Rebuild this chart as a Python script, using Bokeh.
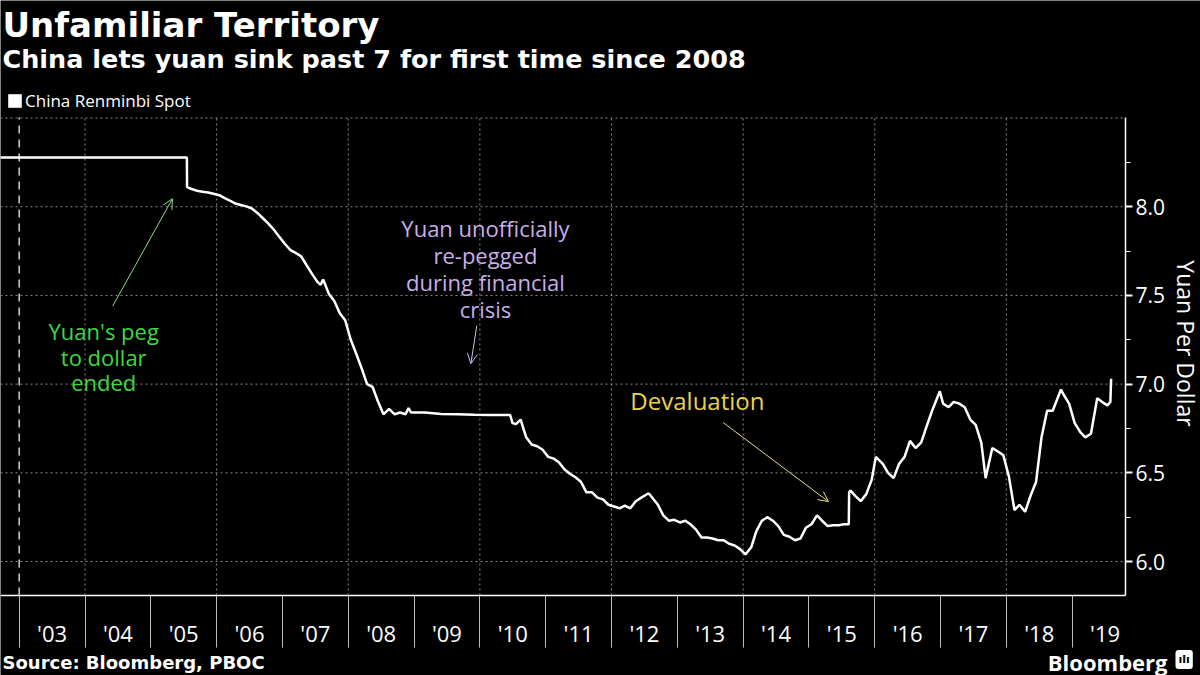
import math
import pandas as pd
from bokeh.plotting import figure
from bokeh.models import (Range1d, FixedTicker, CustomJSTickFormatter, PrintfTickFormatter,
                          Label, Arrow, OpenHead, Legend, LegendItem)
from bokeh.embed import file_html
from bokeh.resources import INLINE

# ---------------- data ----------------
DATES = [
    "2002-09-01", "2005-07-20", "2005-07-21", "2005-08-15", "2005-09-15", "2005-10-15",
    "2005-11-15", "2005-12-15", "2006-01-15", "2006-02-15", "2006-03-15", "2006-04-15",
    "2006-05-15", "2006-06-15", "2006-07-15", "2006-08-15", "2006-09-15", "2006-10-15",
    "2006-11-15", "2006-12-15", "2007-01-15", "2007-02-15", "2007-03-15", "2007-04-15",
    "2007-05-15", "2007-06-15", "2007-07-15", "2007-08-01", "2007-08-15", "2007-09-15",
    "2007-10-15", "2007-11-15", "2007-12-15", "2008-01-15", "2008-02-15", "2008-03-15",
    "2008-04-15", "2008-05-15", "2008-06-15", "2008-07-15", "2008-08-15", "2008-09-15",
    "2008-10-15", "2008-11-15", "2008-12-01", "2008-12-15", "2009-03-01", "2009-06-01",
    "2009-09-01", "2009-12-01", "2010-03-01", "2010-06-18", "2010-07-01", "2010-07-20",
    "2010-08-15", "2010-09-15", "2010-10-15", "2010-11-15", "2010-12-15", "2011-01-15",
    "2011-02-15", "2011-03-15", "2011-04-15", "2011-05-15", "2011-06-15", "2011-07-15",
    "2011-08-15", "2011-09-15", "2011-10-15", "2011-11-15", "2011-12-15", "2012-01-15",
    "2012-02-15", "2012-03-15", "2012-04-15", "2012-05-15", "2012-06-15", "2012-07-25",
    "2012-08-15", "2012-09-15", "2012-10-15", "2012-11-15", "2012-12-15", "2013-01-15",
    "2013-02-15", "2013-03-15", "2013-04-15", "2013-05-15", "2013-06-15", "2013-07-15",
    "2013-08-15", "2013-09-15", "2013-10-15", "2013-11-15", "2013-12-15", "2014-01-14",
    "2014-02-15", "2014-03-15", "2014-04-15", "2014-05-15", "2014-06-15", "2014-07-15",
    "2014-08-15", "2014-09-15", "2014-10-15", "2014-11-15", "2014-12-15", "2015-01-15",
    "2015-02-15", "2015-03-15", "2015-04-15", "2015-05-15", "2015-06-15", "2015-07-15",
    "2015-08-10", "2015-08-12", "2015-08-20", "2015-09-15", "2015-10-15", "2015-11-15",
    "2015-12-15", "2016-01-07", "2016-02-15", "2016-03-15", "2016-04-15", "2016-05-15",
    "2016-06-15", "2016-07-15", "2016-08-15", "2016-09-15", "2016-10-15", "2016-11-15",
    "2016-12-28", "2017-01-15", "2017-02-15", "2017-03-15", "2017-04-15", "2017-05-15",
    "2017-06-15", "2017-07-15", "2017-08-15", "2017-09-08", "2017-10-15", "2017-11-15",
    "2017-12-15", "2018-01-15", "2018-02-15", "2018-03-15", "2018-04-15", "2018-05-15",
    "2018-06-15", "2018-07-15", "2018-08-15", "2018-09-15", "2018-10-31", "2018-11-15",
    "2018-12-15", "2019-01-15", "2019-02-15", "2019-03-15", "2019-04-15", "2019-05-20",
    "2019-06-15", "2019-07-15", "2019-08-01", "2019-08-05",
]
RATES = [
    8.277, 8.277, 8.110, 8.100, 8.090, 8.085,
    8.080, 8.073, 8.065, 8.048, 8.035, 8.018,
    8.010, 8.002, 7.990, 7.965, 7.935, 7.905,
    7.870, 7.830, 7.790, 7.755, 7.740, 7.720,
    7.670, 7.620, 7.575, 7.560, 7.590, 7.510,
    7.470, 7.400, 7.360, 7.250, 7.170, 7.090,
    7.000, 6.985, 6.900, 6.830, 6.860, 6.830,
    6.840, 6.830, 6.865, 6.840, 6.840, 6.832,
    6.830, 6.827, 6.826, 6.826, 6.780, 6.775,
    6.800, 6.700, 6.660, 6.650, 6.630, 6.590,
    6.580, 6.560, 6.520, 6.495, 6.475, 6.450,
    6.390, 6.390, 6.360, 6.350, 6.320, 6.310,
    6.300, 6.315, 6.300, 6.340, 6.360, 6.385,
    6.360, 6.320, 6.260, 6.230, 6.235, 6.220,
    6.230, 6.210, 6.180, 6.135, 6.135, 6.130,
    6.120, 6.120, 6.100, 6.090, 6.070, 6.040,
    6.080, 6.170, 6.230, 6.250, 6.230, 6.200,
    6.150, 6.140, 6.120, 6.130, 6.190, 6.210,
    6.260, 6.230, 6.200, 6.205, 6.205, 6.210,
    6.210, 6.390, 6.400, 6.370, 6.340, 6.380,
    6.460, 6.590, 6.550, 6.500, 6.470, 6.550,
    6.590, 6.680, 6.640, 6.670, 6.760, 6.850,
    6.960, 6.890, 6.870, 6.900, 6.890, 6.870,
    6.800, 6.770, 6.670, 6.470, 6.640, 6.620,
    6.600, 6.480, 6.290, 6.320, 6.280, 6.370,
    6.450, 6.700, 6.850, 6.850, 6.970, 6.940,
    6.890, 6.780, 6.730, 6.700, 6.720, 6.920,
    6.900, 6.880, 6.900, 7.030,
]

YEARS = list(range(2003, 2020))
YEAR_LABELS = ["'03", "'04", "'05", "'06", "'07", "'08", "'09", "'10", "'11",
               "'12", "'13", "'14", "'15", "'16", "'17", "'18", "'19"]
GRID_YEARS = [2004, 2006, 2008, 2010, 2012, 2014, 2016, 2018]
MARK_YEAR = [2003]
Y_TICKS = [6.0, 6.5, 7.0, 7.5, 8.0]
Y_MINOR = [6.25, 6.75, 7.25, 7.75, 8.25]
Y_GRID = [6.0, 6.5, 7.0, 7.5, 8.0, 8.5]

# plotted area (data units) and the whole canvas extent (data units)
PLOT_X = (2002.716, 2019.812)
PLOT_Y = (5.8085, 8.503)
CANVAS_X = (2002.716, 2020.950)
CANVAS_Y = (5.3575, 9.1625)

TITLE = "Unfamiliar Territory"
SUBTITLE = "China lets yuan sink past 7 for first time since 2008"
SERIES = "China Renminbi Spot"
Y_LABEL = "Yuan Per Dollar"
SOURCE = "Source: Bloomberg, PBOC"
BRAND = "Bloomberg"

# annotations: (date, value) anchors
ANN_PEG_TEXT = ["Yuan's peg", "to dollar", "ended"]
ANN_PEG_POS = ("2004-04-14", [7.30, 7.155, 7.01])
ANN_PEG_ARROW = (("2004-06-03", 7.44), ("2005-05-01", 8.045))
ANN_REPEG_TEXT = ["Yuan unofficially", "re-pegged", "during financial", "crisis"]
ANN_REPEG_POS = ("2010-02-01", [7.88, 7.73, 7.578, 7.425])
ANN_REPEG_ARROW = (("2009-12-15", 7.33), ("2009-11-12", 7.115))
ANN_DEV_TEXT = "Devaluation"
ANN_DEV_POS = ("2012-04-15", 6.91)
ANN_DEV_ARROW = (("2013-09-13", 6.783), ("2015-04-19", 6.338))


def dec_year(s):
    t = pd.Timestamp(s)
    a = pd.Timestamp(year=t.year, month=1, day=1)
    b = pd.Timestamp(year=t.year + 1, month=1, day=1)
    return t.year + (t - a) / (b - a)


X = [dec_year(d) for d in DATES]

GREEN = "#3fd93f"
PURPLE = "#c9aee8"
YELLOW = "#e8d24e"
GRID = "#8a8a8a"
OS = "Open Sans"
DJ = "DejaVu Sans"
W, H = 1200, 675


def sy(page_y):
    """screen y (from bottom of frame) for a distance from the top of the page"""
    return H - page_y


p = figure(width=W, height=H, min_border=0,
           x_range=Range1d(*CANVAS_X), y_range=Range1d(*CANVAS_Y),
           y_axis_location="right", background_fill_color="black", border_fill_color="black",
           outline_line_color=None, toolbar_location=None, output_backend="svg")
p.grid.visible = False

# grid lines limited to the plotted area
p.segment(x0=[PLOT_X[0]] * len(Y_GRID), x1=[PLOT_X[1]] * len(Y_GRID), y0=Y_GRID, y1=Y_GRID,
          line_color=GRID, line_dash="2 3", line_width=1)
p.segment(x0=GRID_YEARS, x1=GRID_YEARS, y0=[PLOT_Y[0]] * len(GRID_YEARS),
          y1=[PLOT_Y[1]] * len(GRID_YEARS), line_color=GRID, line_dash="2 3", line_width=1)
p.segment(x0=MARK_YEAR, x1=MARK_YEAR, y0=[PLOT_Y[0]], y1=[PLOT_Y[1]],
          line_color="#d0d0d0", line_dash="8 6", line_width=1.5)

# x axis
xa = p.xaxis[0]
xa.fixed_location = PLOT_Y[0]
xa.bounds = PLOT_X
xa.ticker = FixedTicker(ticks=[y + 0.5 for y in YEARS], minor_ticks=YEARS)
xa.formatter = CustomJSTickFormatter(
    args=dict(labels=YEAR_LABELS, first=YEARS[0]),
    code="const i = Math.floor(tick) - first; return (i >= 0 && i < labels.length) ? labels[i] : '';")
xa.major_tick_line_color = None
xa.major_tick_in = 0
xa.major_tick_out = 0
xa.minor_tick_line_color = "#bdbdbd"
xa.minor_tick_in = 0
xa.minor_tick_out = 52
xa.minor_tick_line_width = 1
xa.axis_line_color = "white"
xa.axis_line_width = 1.5
xa.major_label_text_color = "white"
xa.major_label_text_font = OS
xa.major_label_text_font_size = "22px"
xa.major_label_standoff = -29

# y axis (right)
ya = p.yaxis[0]
ya.fixed_location = PLOT_X[1]
ya.bounds = PLOT_Y
ya.ticker = FixedTicker(ticks=Y_TICKS, minor_ticks=Y_MINOR)
ya.formatter = PrintfTickFormatter(format="%.1f")
ya.major_tick_line_color = "white"
ya.major_tick_line_width = 2
ya.major_tick_in = 0
ya.major_tick_out = 7
ya.minor_tick_line_color = "white"
ya.minor_tick_in = 0
ya.minor_tick_out = 5
ya.axis_line_color = "white"
ya.axis_line_width = 1.5
ya.major_label_text_color = "white"
ya.major_label_text_font = OS
ya.major_label_text_font_size = "21px"
ya.major_label_standoff = 3

# series
p.line(X, RATES, line_color="white", line_width=2.5)

# legend (swatch renderer carries no visible data)
swatch = p.quad(left=[float("nan")], right=[float("nan")], top=[float("nan")],
                bottom=[float("nan")], fill_color="white", line_color=None)
leg = Legend(items=[LegendItem(label=SERIES, renderers=[swatch])], location=(6, sy(112)),
             background_fill_alpha=0, border_line_color=None, padding=0, margin=0,
             glyph_width=17, glyph_height=17, label_standoff=2, label_height=17,
             label_text_color="white", label_text_font=OS, label_text_font_size="17px")
p.add_layout(leg)


# header / footer / axis title
def slabel(x, page_y, text, font, size, bold=False, align="left", angle=0.0, color="white"):
    p.add_layout(Label(x=x, y=sy(page_y), x_units="screen", y_units="screen", text=text,
                       text_font=font, text_font_size=size,
                       text_font_style="bold" if bold else "normal", text_color=color,
                       text_align=align, text_baseline="middle", angle=angle))


slabel(2, 24, TITLE, DJ, "34px", bold=True)
slabel(2, 58, SUBTITLE, DJ, "25.5px", bold=True)
slabel(1185, 343, Y_LABEL, OS, "23px", align="center", angle=-math.pi / 2)
slabel(2, 662, SOURCE, DJ, "18px", bold=True)
slabel(1167, 661, BRAND, OS, "22px", bold=True, align="right")
p.add_layout(Label(x=1175, y=sy(659), x_units="screen", y_units="screen", text="ılı",
                   text_font=DJ, text_font_style="bold", text_font_size="11px",
                   text_color="black", background_fill_color="white", padding=3,
                   border_radius=3, text_baseline="middle"))


# annotations
def add_lines(lines, pos, color, size):
    xd = dec_year(pos[0])
    for t, yv in zip(lines, pos[1]):
        p.add_layout(Label(x=xd, y=yv, text=t, text_font=OS, text_font_size=size,
                           text_color=color, text_align="center", text_baseline="middle"))


def add_arrow(arr, color):
    (d0, v0), (d1, v1) = arr
    p.add_layout(Arrow(end=OpenHead(size=10, line_color=color, line_width=1),
                       x_start=dec_year(d0), y_start=v0, x_end=dec_year(d1), y_end=v1,
                       line_color=color, line_width=1))


add_lines(ANN_PEG_TEXT, ANN_PEG_POS, GREEN, "22px")
add_arrow(ANN_PEG_ARROW, "#8fd88f")
add_lines(ANN_REPEG_TEXT, ANN_REPEG_POS, PURPLE, "22px")
add_arrow(ANN_REPEG_ARROW, "#cdbbe8")
p.add_layout(Label(x=dec_year(ANN_DEV_POS[0]), y=ANN_DEV_POS[1], text=ANN_DEV_TEXT,
                   text_font=OS, text_font_size="24px", text_color=YELLOW,
                   text_align="left", text_baseline="middle"))
add_arrow(ANN_DEV_ARROW, "#e6e07a")

open("out.html", "w").write(file_html(p, INLINE))
